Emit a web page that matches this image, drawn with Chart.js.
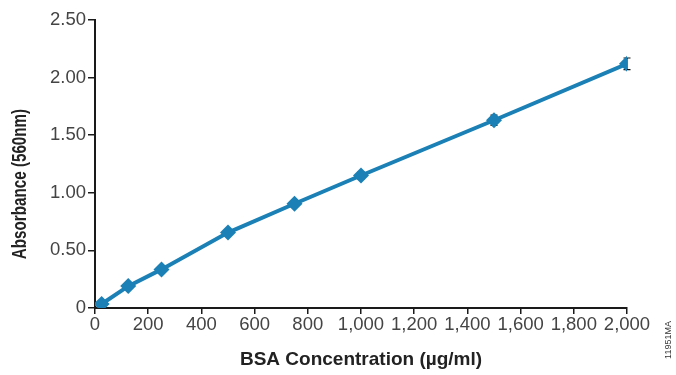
<!DOCTYPE html>
<html><head><meta charset="utf-8">
<script src="https://cdn.jsdelivr.net/npm/chart.js@4"></script>
<style>html,body{margin:0;padding:0;background:#fff}#w{width:676px;height:375px}</style>
</head><body><div id="w"><canvas id="c"></canvas></div>
<script>
const concentrations = [25, 125, 250, 500, 750, 1000, 1500, 2000];
const absorbance = [0.035, 0.19, 0.335, 0.655, 0.905, 1.15, 1.63, 2.12];
const errors = [0.02, 0.02, 0.025, 0.025, 0.03, 0.03, 0.045, 0.05];
const xTicks = [0, 200, 400, 600, 800, 1000, 1200, 1400, 1600, 1800, 2000];
const yTicks = [0, 0.5, 1, 1.5, 2, 2.5];
const figureCode = '11951MA';
const yTitle = 'Absorbance (560nm)';

const regular = '"Liberation Sans", Arial, Helvetica, sans-serif';

const errorBars = {
  id: 'errorBars',
  beforeDatasetsDraw(chart) {
    const {ctx, scales: {x, y}} = chart;
    ctx.save();
    ctx.strokeStyle = '#111';
    ctx.lineWidth = 1.2;
    concentrations.forEach((c, i) => {
      const px = x.getPixelForValue(c);
      const top = y.getPixelForValue(absorbance[i] + errors[i]);
      const bot = y.getPixelForValue(absorbance[i] - errors[i]);
      ctx.beginPath();
      ctx.moveTo(px, top); ctx.lineTo(px, bot);
      ctx.moveTo(px - 3.5, top); ctx.lineTo(px + 3.5, top);
      ctx.moveTo(px - 3.5, bot); ctx.lineTo(px + 3.5, bot);
      ctx.stroke();
    });
    ctx.restore();
  }
};
const textLabels = {
  id: 'textLabels',
  afterDraw(chart) {
    const ctx = chart.ctx;
    ctx.save();
    ctx.translate(669, 340);
    ctx.rotate(-Math.PI / 2);
    ctx.font = '9px ' + regular;
    ctx.fillStyle = '#333';
    ctx.textAlign = 'center';
    ctx.textBaseline = 'middle';
    ctx.fillText(figureCode, 0, 0);
    ctx.restore();

    ctx.save();
    ctx.translate(20, 184);
    ctx.rotate(-Math.PI / 2);
    ctx.scale(0.76, 1);
    ctx.font = 'bold 20px ' + regular;
    ctx.fillStyle = '#222';
    ctx.textAlign = 'center';
    ctx.textBaseline = 'middle';
    ctx.fillText(yTitle, 0, 0);
    ctx.restore();
  }
};

new Chart(document.getElementById('c'), {
  type: 'scatter',
  data: {
    datasets: [{
      data: concentrations.map((c, i) => ({x: c, y: absorbance[i]})),
      showLine: true,
      borderColor: '#1a80b5',
      backgroundColor: '#1a80b5',
      borderWidth: 4,
      pointStyle: 'rectRot',
      pointRadius: 8,
      pointBorderWidth: 0,
      tension: 0
    }]
  },
  options: {
    responsive: true,
    maintainAspectRatio: false,
    animation: false,
    layout: {padding: {top: 20, right: 49, left: 0, bottom: 0}},
    plugins: {legend: {display: false}, tooltip: {enabled: false}},
    scales: {
      x: {
        type: 'linear', min: 0, max: 2000,
        afterBuildTicks: s => { s.ticks = xTicks.map(v => ({value: v})); },
        afterFit: s => { s.height = 67; },
        border: {color: '#1a1a1a', width: 2},
        grid: {drawOnChartArea: false, drawTicks: true, tickLength: 6, color: '#1a1a1a', lineWidth: 1.5},
        ticks: {color: '#444', font: {family: regular, size: 18.5}, padding: 0, maxRotation: 0,
          callback: v => v.toLocaleString('en-US')},
        title: {display: true, text: 'BSA Concentration (µg/ml)', color: '#222',
          font: {family: regular, size: 19, weight: 'bold'}, padding: {top: 8}}
      },
      y: {
        type: 'linear', min: 0, max: 2.5,
        afterBuildTicks: s => { s.ticks = yTicks.map(v => ({value: v})); },
        afterFit: s => { s.width = 95; },
        border: {color: '#1a1a1a', width: 2},
        grid: {drawOnChartArea: false, drawTicks: true, tickLength: 7, color: '#1a1a1a', lineWidth: 1.5},
        ticks: {color: '#444', font: {family: regular, size: 18.5}, padding: 2,
          callback: v => v === 0 ? '0' : v.toFixed(2)},
        title: {display: false}
      }
    }
  },
  plugins: [errorBars, textLabels]
});
</script></body></html>
